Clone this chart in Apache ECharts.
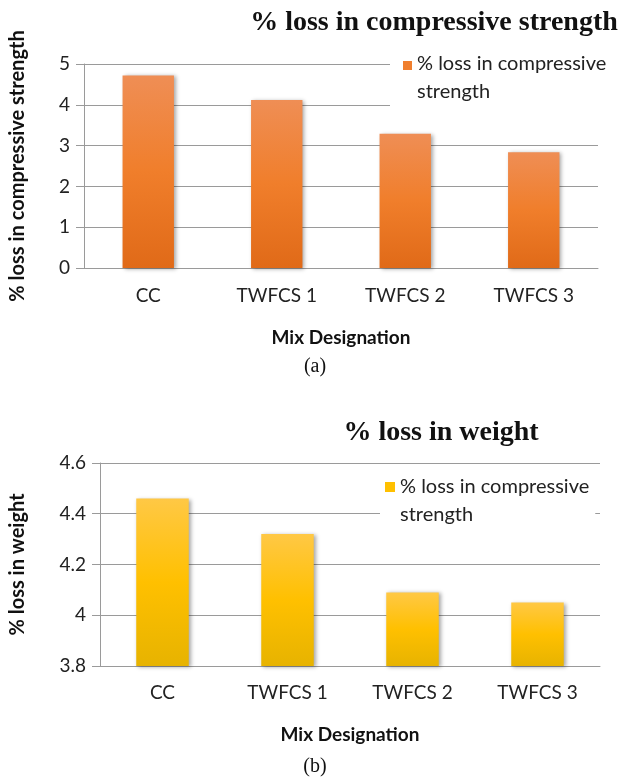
<!DOCTYPE html>
<html>
<head>
<meta charset="utf-8">
<script src="https://cdn.jsdelivr.net/npm/echarts@6/dist/echarts.min.js"></script>
<style>
  html, body { margin: 0; padding: 0; background: #fff; }
  #chartA, #chartB { width: 621px; height: 390px; }
</style>
</head>
<body>
<div id="chartA"></div>
<div id="chartB"></div>
<script>
// Mix designations shared by both panels
const mixes = ['CC', 'TWFCS 1', 'TWFCS 2', 'TWFCS 3'];

// Panel (a): % loss in compressive strength
const strengthLoss = [4.72, 4.12, 3.29, 2.84];
const strengthTicks = { min: 0, max: 5, interval: 1 };

// Panel (b): % loss in weight
const weightLoss = [4.46, 4.32, 4.09, 4.05];
const weightTicks = { min: 3.8, max: 4.6, interval: 0.2 };

const seriesName = '% loss in compressive strength';
const sans = 'Lato, "Open Sans", sans-serif';
const serif = '"Liberation Serif", "DejaVu Serif", serif';

// Square legend marker sitting at the top of a taller invisible box,
// so it lines up with the first line of a two-line legend label.
const legendIcon = 'path://M0,0h10v10h-10z M0,38h0.01v0.01h-0.01z';

function gradient(stops) {
  return new echarts.graphic.LinearGradient(0, 0, 0, 1,
    stops.map((c, i) => ({ offset: i / (stops.length - 1), color: c })));
}

function panel(cfg) {
  return {
    animation: false,
    backgroundColor: '#fff',
    title: [
      {
        text: cfg.title,
        left: cfg.titleX, top: cfg.titleY, textAlign: 'center',
        textStyle: { fontFamily: serif, fontWeight: 'bold', fontSize: 28, color: '#111' }
      },
      {
        text: cfg.caption,
        left: 310, top: cfg.captionY, textAlign: 'center',
        textStyle: { fontFamily: serif, fontWeight: 'normal', fontSize: 20, color: '#111' }
      }
    ],
    legend: {
      left: cfg.legendLeft, top: cfg.legendTop,
      padding: [4, 6, 4, cfg.legendPadLeft],
      backgroundColor: '#fff',
      icon: legendIcon,
      itemWidth: cfg.iconSize, itemHeight: 38,
      data: [{ name: seriesName, itemStyle: { color: cfg.iconColor } }],
      formatter: () => '% loss in compressive\nstrength',
      textStyle: { fontFamily: sans, fontSize: 20, color: '#222', lineHeight: 28 }
    },
    grid: cfg.grid,
    xAxis: {
      type: 'category',
      data: mixes,
      name: 'Mix Designation',
      nameLocation: 'middle',
      nameGap: cfg.xNameGap,
      nameTextStyle: { fontFamily: sans, fontWeight: 'bold', fontSize: 19, color: '#111' },
      axisLine: { lineStyle: { color: '#9a9a9a', width: 1 } },
      axisTick: { show: false },
      axisLabel: { fontFamily: sans, fontSize: 19, color: '#222', margin: cfg.xLabelMargin }
    },
    yAxis: {
      type: 'value',
      min: cfg.ticks.min, max: cfg.ticks.max, interval: cfg.ticks.interval,
      name: cfg.yName,
      nameLocation: 'middle',
      nameGap: cfg.yNameGap,
      nameRotate: 90,
      nameTextStyle: { fontFamily: sans, fontWeight: 'bold', fontSize: 20, color: '#111' },
      axisLine: { show: true, lineStyle: { color: '#9a9a9a', width: 1 } },
      axisTick: { show: true, inside: false, length: 8, lineStyle: { color: '#9a9a9a' } },
      splitLine: { lineStyle: { color: '#9a9a9a', width: 1 } },
      axisLabel: {
        fontFamily: sans, fontSize: 19, color: '#222', margin: cfg.yLabelMargin,
        formatter: v => String(Math.round(v * 10) / 10)
      }
    },
    series: [{
      name: seriesName,
      type: 'bar',
      data: cfg.values,
      barWidth: cfg.barWidth,
      itemStyle: {
        color: gradient(cfg.barStops),
        shadowBlur: 4,
        shadowColor: 'rgba(0,0,0,0.35)',
        shadowOffsetX: 2,
        shadowOffsetY: 1
      }
    }]
  };
}

const chartA = echarts.init(document.getElementById('chartA'), null, { renderer: 'canvas' });
chartA.setOption(panel({
  title: '% loss in compressive strength', titleX: 429, titleY: 4,
  caption: '(a)', captionY: 352,
  legendLeft: 390, legendTop: 46, legendPadLeft: 13, iconSize: 9, iconColor: '#F07F2E',
  grid: { left: 75, right: 23, top: 64, bottom: 122 },
  xNameGap: 60, xLabelMargin: 18,
  yName: '% loss in compressive strength', yNameGap: 56, yLabelMargin: 14,
  ticks: strengthTicks,
  values: strengthLoss,
  barWidth: '40%',
  barStops: ['#EF8E55', '#F07E2B', '#E06A18']
}));

const chartB = echarts.init(document.getElementById('chartB'), null, { renderer: 'canvas' });
chartB.setOption(panel({
  title: '% loss in weight', titleX: 436, titleY: 24,
  caption: '(b)', captionY: 362,
  legendLeft: 380, legendTop: 79, legendPadLeft: 5, iconSize: 10, iconColor: '#FFC000',
  grid: { left: 93, right: 21, top: 73, bottom: 114 },
  xNameGap: 59, xLabelMargin: 17,
  yName: '% loss in weight', yNameGap: 72, yLabelMargin: 14,
  ticks: weightTicks,
  values: weightLoss,
  barWidth: '42%',
  barStops: ['#FFC845', '#FFC000', '#E7B300']
}));
</script>
</body>
</html>
